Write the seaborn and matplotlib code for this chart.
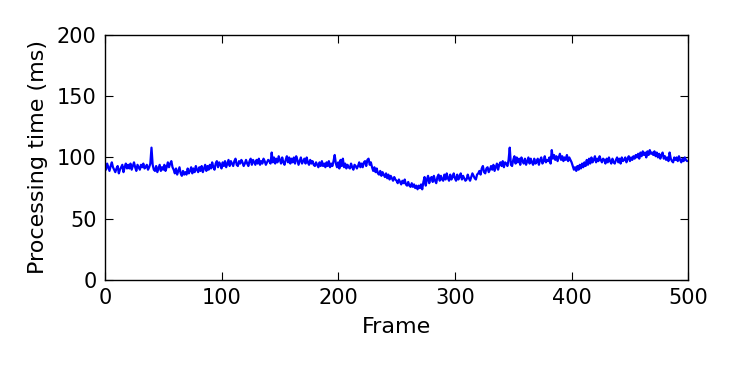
import numpy as np
import seaborn as sns
import matplotlib.pyplot as plt

# processing time per frame (ms), 10 frames per row
times = [
    93, 90, 95, 92, 89, 93, 96, 92, 90, 88,
    91, 93, 87, 90, 92, 94, 88, 92, 95, 91,
    94, 91, 95, 90, 93, 96, 92, 89, 94, 92,
    90, 94, 92, 95, 91, 92, 94, 90, 92, 95,
    108, 94, 90, 89, 93, 88, 91, 94, 89, 92,
    90, 94, 89, 92, 96, 92, 95, 97, 92, 90,
    87, 91, 86, 89, 92, 87, 85, 89, 86, 88,
    86, 91, 87, 89, 92, 87, 91, 88, 93, 90,
    88, 92, 89, 93, 88, 91, 94, 89, 93, 90,
    94, 91, 96, 92, 90, 95, 97, 92, 96, 94,
    91, 96, 93, 97, 92, 95, 98, 93, 97, 95,
    93, 97, 99, 94, 93, 97, 95, 98, 96, 93,
    95, 98, 95, 93, 97, 99, 94, 98, 96, 94,
    98, 95, 99, 94, 97, 95, 99, 97, 94, 96,
    98, 97, 95, 104, 96, 100, 95, 99, 96, 101,
    98, 95, 100, 96, 94, 98, 101, 96, 100, 95,
    99, 96, 100, 95, 101, 98, 94, 97, 100, 95,
    97, 99, 95, 100, 96, 94, 98, 95, 97, 94,
    93, 96, 94, 92, 96, 93, 97, 93, 95, 92,
    96, 93, 97, 92, 95, 93, 97, 102, 95, 92,
    96, 91, 98, 93, 99, 92, 95, 91, 94, 92,
    91, 95, 92, 90, 94, 93, 91, 93, 96, 92,
    95, 92, 96, 97, 93, 98, 99, 94, 96, 92,
    89, 92, 88, 91, 87, 86, 89, 85, 88, 86,
    84, 87, 83, 86, 82, 85, 83, 81, 84, 82,
    81, 79, 82, 80, 78, 81, 79, 82, 78, 77,
    80, 77, 76, 79, 76, 78, 75, 77, 74, 77,
    75, 78, 74, 80, 84, 77, 82, 85, 79, 83,
    84, 80, 85, 81, 79, 84, 86, 81, 85, 82,
    81, 86, 82, 87, 83, 81, 86, 82, 84, 87,
    83, 81, 86, 82, 84, 87, 82, 85, 83, 81,
    82, 86, 83, 81, 84, 87, 85, 83, 82, 86,
    87, 89, 86, 91, 93, 88, 87, 91, 92, 88,
    90, 93, 90, 94, 89, 92, 95, 90, 94, 96,
    93, 97, 92, 96, 95, 93, 98, 108, 94, 93,
    98, 101, 95, 100, 96, 99, 94, 100, 97, 95,
    99, 94, 97, 100, 95, 99, 96, 94, 99, 95,
    96, 99, 94, 98, 100, 95, 97, 101, 96, 98,
    97, 100, 95, 106, 99, 102, 98, 101, 97, 100,
    103, 98, 101, 97, 100, 98, 102, 97, 100, 98,
    96, 93, 90, 92, 89, 93, 90, 94, 91, 95,
    92, 96, 93, 98, 94, 99, 95, 100, 96, 98,
    101, 96, 99, 97, 101, 98, 96, 99, 98, 95,
    99, 96, 100, 97, 95, 99, 96, 95, 98, 100,
    96, 99, 95, 100, 97, 98, 100, 96, 99, 101,
    97, 100, 98, 101, 99, 102, 100, 103, 99, 104,
    101, 105, 102, 104, 100, 105, 102, 106, 103, 104,
    102, 105, 101, 104, 100, 103, 99, 102, 104, 99,
    101, 98, 100, 97, 104, 99, 97, 96, 100, 98,
    100, 97, 101, 98, 96, 99, 97, 100, 98, 97,
]
frames = np.arange(len(times))

sns.set_style("ticks")
plt.rcParams["font.family"] = ["DejaVu Sans"]
plt.rcParams["text.color"] = "black"
plt.rcParams["axes.labelcolor"] = "black"
plt.rcParams["xtick.color"] = "black"
plt.rcParams["ytick.color"] = "black"

fig = plt.figure(figsize=(7.33, 3.67), dpi=100)
ax = fig.add_axes([0.143, 0.237, 0.796, 0.668])
sns.lineplot(x=frames, y=times, ax=ax, color="blue", linewidth=1.6)

ax.set_xlim(0, 500)
ax.set_ylim(0, 200)
ax.set_xticks([0, 100, 200, 300, 400, 500])
ax.set_yticks([0, 50, 100, 150, 200])
ax.set_xlabel("Frame", fontsize=16, labelpad=6)
ax.set_ylabel("Processing time (ms)", fontsize=16, labelpad=6)
ax.tick_params(direction="in", top=True, right=True, length=6, width=0.8,
               labelsize=15, pad=6)
for s in ax.spines.values():
    s.set_color("black")
    s.set_linewidth(1.0)

fig.savefig("out.png", dpi=100)
